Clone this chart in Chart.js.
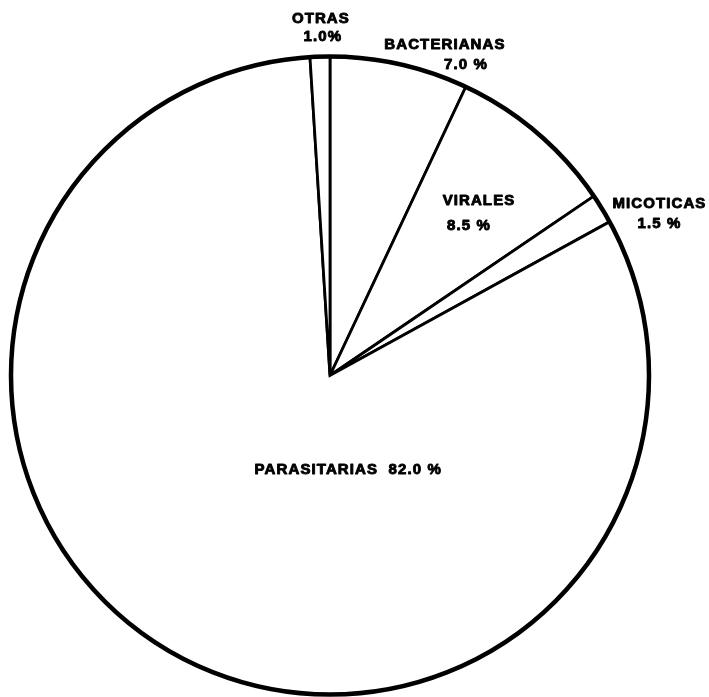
<!DOCTYPE html>
<html lang="es">
<head>
  <meta charset="UTF-8" />
  <title>Enfermedades</title>
  <script src="https://cdn.jsdelivr.net/npm/chart.js@4/dist/chart.umd.min.js"></script>
  <style>
    html, body { margin: 0; padding: 0; background: #fff; }
    .wrap { width: 709px; height: 697px; }
  </style>
</head>
<body>
  <div class="wrap"><canvas id="chart" width="709" height="697"></canvas></div>
  <script>
    // slices, clockwise from 12 o'clock
    const categories = ['BACTERIANAS', 'VIRALES', 'MICOTICAS', 'PARASITARIAS', 'OTRAS'];
    const percents = [7.0, 8.5, 1.5, 82.0, 1.0];
    const percentLabels = ['7.0 %', '8.5 %', '1.5 %', '82.0 %', '1.0%'];

    // label block centre, in polar terms relative to the pie (deg from top, fraction of radius)
    const labelSpots = [
      { angle: 19.7, r: 1.069, gap: 20, shift: 21, inline: false },
      { angle: 42.6, r: 0.69, gap: 25, shift: -10, inline: false },
      { angle: 63.9, r: 1.15, gap: 20, shift: 0, inline: false },
      { angle: 169, r: 0.30, gap: 0, shift: 0, inline: true },
      { angle: -1.5, r: 1.09, gap: 18, shift: 2, inline: false },
    ];

    const labelPlugin = {
      id: 'sliceLabels',
      afterDatasetsDraw(chart) {
        const arc = chart.getDatasetMeta(0).data[0];
        const cx = arc.x, cy = arc.y, R = arc.outerRadius;
        const ctx = chart.ctx;
        ctx.save();
        // heavy outer rim
        ctx.beginPath();
        ctx.arc(cx, cy, R, 0, Math.PI * 2);
        ctx.lineWidth = 4.5;
        ctx.strokeStyle = '#000';
        ctx.stroke();

        ctx.fillStyle = '#000';
        ctx.font = 'bold 15px "Liberation Sans", Arial, sans-serif';
        ctx.letterSpacing = '1.1px';
        ctx.lineWidth = 0.9;
        ctx.lineJoin = 'round';
        ctx.textAlign = 'center';
        ctx.textBaseline = 'middle';
        const put = (txt, x, y) => { ctx.fillText(txt, x, y); ctx.strokeText(txt, x, y); };
        categories.forEach((name, i) => {
          const s = labelSpots[i];
          const a = s.angle * Math.PI / 180;
          const x = cx + Math.sin(a) * R * s.r;
          const y = cy - Math.cos(a) * R * s.r;
          if (s.inline) {
            put(name + '  ' + percentLabels[i], x, y);
          } else {
            put(name, x, y - s.gap / 2);
            put(percentLabels[i], x + s.shift, y + s.gap / 2);
          }
        });
        ctx.restore();
      },
    };

    new Chart(document.getElementById('chart'), {
      type: 'pie',
      data: {
        labels: categories,
        datasets: [{
          data: percents,
          backgroundColor: '#fff',
          borderColor: '#000',
          borderWidth: 2.8,
          borderJoinStyle: 'miter',
        }],
      },
      options: {
        responsive: false,
        animation: false,
        radius: 319,
        layout: { padding: { left: 11, right: 60, top: 57, bottom: 3 } },
        plugins: {
          legend: { display: false },
          tooltip: { enabled: false },
        },
      },
      plugins: [labelPlugin],
    });
  </script>
</body>
</html>
